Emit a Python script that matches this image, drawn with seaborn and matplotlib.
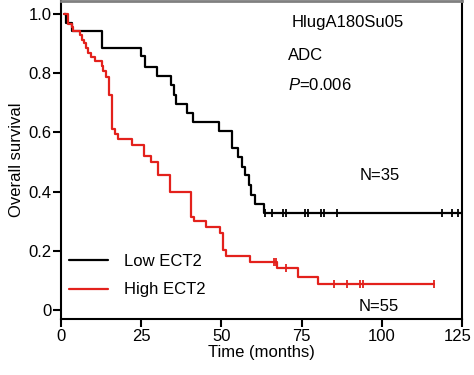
import matplotlib
matplotlib.use('Agg')
import matplotlib.pyplot as plt
import matplotlib.transforms as mtransforms
import seaborn as sns

# Kaplan-Meier steps (time in months, survival)
low_t = [0.8, 1.6, 3.5, 12.7, 25.0, 26.2, 30.0, 34.4, 35.2, 36.0, 39.3, 41.1,
         49.4, 53.4, 55.1, 56.5, 57.5, 58.5, 59.3, 60.6, 63.4, 124.6]
low_s = [1.0, 0.971, 0.943, 0.886, 0.857, 0.822, 0.790, 0.760, 0.727, 0.697, 0.667, 0.636,
         0.606, 0.546, 0.518, 0.485, 0.455, 0.424, 0.390, 0.358, 0.329, 0.329]
low_cens_t = [63.6, 65.7, 69.2, 70.0, 76.2, 76.9, 81.1, 81.9, 86.0, 118.7, 121.8, 123.9]
low_cens_s = [0.329] * 12

high_t = [0.8, 2.2, 3.3, 3.8, 5.9, 6.6, 7.3, 7.8, 8.5, 9.3, 10.6, 12.7, 13.2, 14.0,
          15.0, 15.8, 16.8, 17.8, 22.0, 25.9, 28.2, 30.3, 34.1, 40.4, 41.5, 45.3,
          49.5, 50.4, 51.3, 58.8, 67.3, 73.8, 80.0, 116.3]
high_s = [1.0, 0.968, 0.957, 0.942, 0.929, 0.914, 0.901, 0.886, 0.870, 0.856, 0.842, 0.826, 0.806, 0.786,
          0.727, 0.612, 0.595, 0.577, 0.559, 0.520, 0.500, 0.456, 0.400, 0.315, 0.302, 0.282,
          0.262, 0.203, 0.183, 0.163, 0.141, 0.113, 0.087, 0.087]
high_cens_t = [66.5, 67.1, 70.0, 85.0, 89.1, 93.3, 94.0, 116.3]
high_cens_s = [0.163, 0.163, 0.141, 0.087, 0.087, 0.087, 0.087, 0.087]

groups = ['Low ECT2', 'High ECT2']
notes = ['HlugA180Su05', 'ADC']
p_text = '$\\it{P}$=0.006'
n_labels = ['N=35', 'N=55']

red = '#e3211c'
fs = 12

sns.set_style('ticks')
plt.rcParams['font.family'] = ['Liberation Sans', 'DejaVu Sans']
plt.rcParams['mathtext.fontset'] = 'custom'
plt.rcParams['mathtext.it'] = 'Liberation Sans:italic'
plt.rcParams['mathtext.rm'] = 'Liberation Sans'
plt.rcParams['text.color'] = 'black'
plt.rcParams['axes.labelcolor'] = 'black'

fig = plt.figure(figsize=(4.74, 3.75), dpi=100)
ax = fig.add_axes([0.1287, 0.1493, 0.846, 0.848])

sns.lineplot(x=low_t, y=low_s, drawstyle='steps-post', estimator=None, sort=False,
             color='black', linewidth=1.6, label=groups[0], ax=ax)
sns.lineplot(x=high_t, y=high_s, drawstyle='steps-post', estimator=None, sort=False,
             color=red, linewidth=1.6, label=groups[1], ax=ax)
sns.scatterplot(x=low_cens_t, y=low_cens_s, marker='|', s=28, color='black',
                linewidth=1.3, ax=ax, legend=False)
sns.scatterplot(x=high_cens_t, y=high_cens_s, marker='|', s=28, color=red,
                linewidth=1.3, ax=ax, legend=False)

ax.set_xlim(0, 125)
ax.set_ylim(-0.030, 1.044)
ax.set_xticks([0, 25, 50, 75, 100, 125])
ax.set_yticks([0, 0.2, 0.4, 0.6, 0.8, 1.0])
ax.set_yticklabels(['0', '0.2', '0.4', '0.6', '0.8', '1.0'])
ax.tick_params(direction='out', length=5.5, width=1.5, labelsize=fs, colors='black', pad=1.5)
for side in ['left', 'right', 'bottom']:
    ax.spines[side].set_linewidth(1.5)
    ax.spines[side].set_color('black')
ax.spines['top'].set_linewidth(2)
ax.spines['top'].set_color('#808080')

# nudge the last x tick label so it stays inside the picture
last = ax.get_xticklabels()[-1]
last.set_transform(last.get_transform() + mtransforms.ScaledTranslation(-4 / 100, 0, fig.dpi_scale_trans))

ax.set_xlabel('Time (months)', fontsize=fs, labelpad=1)
ax.set_ylabel('Overall survival', fontsize=fs, labelpad=3)

ax.text(71.8, 0.973, notes[0], fontsize=fs, va='center', ha='left', color='black')
ax.text(70.9, 0.861, notes[1], fontsize=fs, va='center', ha='left', color='black')
ax.text(70.9, 0.760, p_text, fontsize=fs, va='center', ha='left', color='black')
ax.text(93.0, 0.456, n_labels[0], fontsize=fs, va='center', ha='left', color='black')
ax.text(92.7, 0.011, n_labels[1], fontsize=fs, va='center', ha='left', color='black')

handles, labels = ax.get_legend_handles_labels()
ax.legend(handles, labels, loc='center left', bbox_to_anchor=(0.0207, 0.136),
          frameon=False, fontsize=fs, handlelength=2.3, handletextpad=1.0,
          labelspacing=0.8, borderpad=0, borderaxespad=0, labelcolor='black')

fig.savefig('out.png', dpi=100)
